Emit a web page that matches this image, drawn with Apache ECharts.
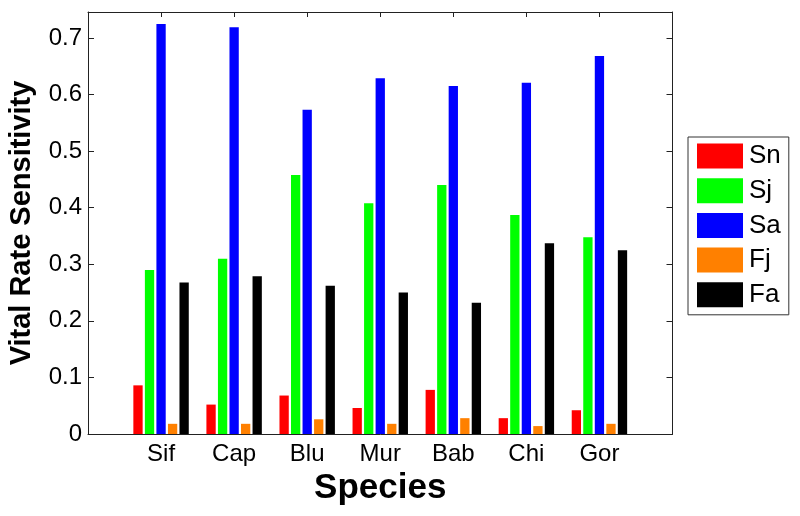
<!DOCTYPE html>
<html>
<head>
<meta charset="utf-8">
<script src="https://cdn.jsdelivr.net/npm/echarts@6/dist/echarts.min.js"></script>
<style>html,body{margin:0;padding:0;background:#fff}#c{width:800px;height:516px}</style>
</head>
<body>
<div id="c"></div>
<script>
const categories = ['Sif','Cap','Blu','Mur','Bab','Chi','Gor'];
const seriesNames = ['Sn','Sj','Sa','Fj','Fa'];
const Sn = [0.086,0.052,0.068,0.046,0.078,0.028,0.042];
const Sj = [0.290,0.310,0.458,0.408,0.440,0.387,0.348];
const Sa = [0.725,0.719,0.573,0.629,0.615,0.621,0.668];
const Fj = [0.018,0.018,0.026,0.018,0.028,0.014,0.018];
const Fa = [0.268,0.279,0.262,0.250,0.232,0.337,0.325];
const colors = ['#ff0000','#00ff00','#0000ff','#ff8000','#000000'];
const yTicks = [0,0.1,0.2,0.3,0.4,0.5,0.6,0.7];

const FONT = 'Liberation Sans, Arial, sans-serif';
const values = [Sn,Sj,Sa,Fj,Fa];
const chart = echarts.init(document.getElementById('c'), null, {renderer:'canvas'});
const axisLine = {show:true, onZero:false, lineStyle:{color:'#222', width:1}};
chart.setOption({
  animation:false,
  backgroundColor:'#fff',
  grid:{left:88, top:12, right:127.5, bottom:82, containLabel:false, outerBoundsMode:'none'},
  legend:{
    orient:'vertical', left:688, top:137,
    itemWidth:46, itemHeight:25, itemGap:8.7,
    padding:[6,8,7,9],
    borderColor:'#333', borderWidth:1,
    icon:'rect',
    textStyle:{fontFamily:FONT, fontSize:26, color:'#000', lineHeight:25, padding:[0,0,0,1]},
    data:seriesNames
  },
  xAxis:[{
    type:'value', min:0, max:categories.length+1, interval:1, position:'bottom',
    axisLine:axisLine, splitLine:{show:false},
    axisTick:{show:true, inside:true, length:5, lineStyle:{color:'#222'}},
    axisLabel:{fontFamily:FONT, fontSize:24, color:'#000', margin:8,
      formatter:(v)=>categories[Math.round(v)-1]||''},
    name:'Species', nameLocation:'middle', nameGap:37,
    nameTextStyle:{fontFamily:FONT, fontSize:35, fontWeight:'bold', color:'#000'}
  },{
    type:'value', min:0, max:categories.length+1, interval:1, position:'top',
    axisLine:axisLine, splitLine:{show:false},
    axisTick:{show:true, inside:true, length:5, lineStyle:{color:'#222'}},
    axisLabel:{show:false}
  }],
  yAxis:[{
    type:'value', min:0, max:0.746, interval:0.1, position:'left',
    axisLine:axisLine, splitLine:{show:false},
    axisTick:{show:true, inside:true, length:6, lineStyle:{color:'#222'}},
    axisLabel:{fontFamily:FONT, fontSize:24, color:'#000', margin:6, showMaxLabel:false,
      formatter:(v)=>{const t=yTicks.find(x=>Math.abs(x-v)<1e-6);return t===undefined?'':String(t);}},
    name:'Vital Rate Sensitivity', nameLocation:'middle', nameGap:52,
    nameTextStyle:{fontFamily:FONT, fontSize:29, fontWeight:'bold', color:'#000'}
  },{
    type:'value', min:0, max:0.746, interval:0.1, position:'right',
    axisLine:axisLine, splitLine:{show:false},
    axisTick:{show:true, inside:true, length:6, lineStyle:{color:'#222'}},
    axisLabel:{show:false}
  }],
  series: seriesNames.map((n,i)=>({
    name:n, type:'bar', xAxisIndex:0, yAxisIndex:0,
    barWidth:9.3, barGap:'24%',
    itemStyle:{color:colors[i]},
    data: values[i].map((v,k)=>[k+1, v])
  }))
});
</script>
</body>
</html>
